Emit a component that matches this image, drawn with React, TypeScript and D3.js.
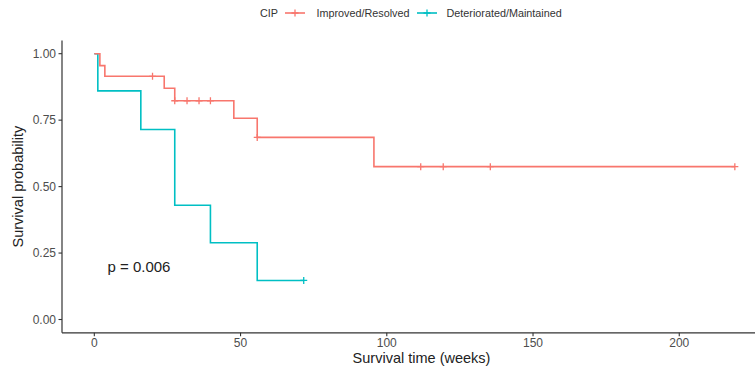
import { useEffect, useRef } from 'react';
import * as d3 from 'd3';

// Improved/Resolved group (red)
const redTimes = [0, 1.9, 3.6, 23.9, 27.5, 47.7, 55.7, 95.6];
const redSurv = [1, 0.955, 0.915, 0.87, 0.823, 0.757, 0.685, 0.575];
const redEnd = 219;
const redCensorTimes = [19.9, 27.5, 31.7, 35.8, 39.7, 55.7, 111.6, 119.3, 135.4, 219];

// Deteriorated/Maintained group (teal)
const tealTimes = [0, 1.2, 15.9, 27.5, 39.7, 55.7];
const tealSurv = [1, 0.86, 0.715, 0.43, 0.289, 0.147];
const tealEnd = 71.6;
const tealCensorTimes = [71.6];

const xTicks = [0, 50, 100, 150, 200];
const yTicks = [0, 0.25, 0.5, 0.75, 1];
const legendLabels = ['Improved/Resolved', 'Deteriorated/Maintained'];
const pValueLabel = 'p = 0.006';

const RED = '#F8766D';
const TEAL = '#00BFC4';
const FONT = '"Liberation Sans", Arial, sans-serif';

const W = 755;
const H = 370;

// survival level at time t for a step curve
function survAt(times: number[], surv: number[], t: number) {
  let s = surv[0];
  for (let i = 0; i < times.length; i++) if (times[i] <= t) s = surv[i];
  return s;
}

export default function App() {
  const svgRef = useRef<SVGSVGElement>(null);

  useEffect(() => {
    if (!svgRef.current) return;
    const svg = d3.select(svgRef.current);
    svg.selectAll('*').remove();

    const panel = { left: 62, right: 773, top: 40.4, bottom: 332.8 };
    const xMax = 221;
    const x = d3.scaleLinear().domain([-0.05 * xMax, 1.05 * xMax]).range([panel.left, panel.right]);
    const y = d3.scaleLinear().domain([-0.05, 1.05]).range([panel.bottom, panel.top]);

    const line = d3
      .line<[number, number]>()
      .x((d) => x(d[0]))
      .y((d) => y(d[1]))
      .curve(d3.curveStepAfter);

    const groups = [
      { times: redTimes, surv: redSurv, end: redEnd, censor: redCensorTimes, color: RED },
      { times: tealTimes, surv: tealSurv, end: tealEnd, censor: tealCensorTimes, color: TEAL },
    ];

    // curves (teal first so red sits on top where they overlap)
    for (const g of [...groups].reverse()) {
      const pts: [number, number][] = g.times.map((t, i) => [t, g.surv[i]]);
      pts.push([g.end, g.surv[g.surv.length - 1]]);
      svg
        .append('path')
        .attr('d', line(pts))
        .attr('fill', 'none')
        .attr('stroke', g.color)
        .attr('stroke-width', 1.6);

      // censor marks
      g.censor.forEach((t) => {
        const cx = x(t);
        const cy = y(survAt(g.times, g.surv, t));
        svg
          .append('path')
          .attr('d', `M${cx - 3.5},${cy}H${cx + 3.5}M${cx},${cy - 3.5}V${cy + 3.5}`)
          .attr('stroke', g.color)
          .attr('stroke-width', 1.3);
      });
    }

    // Axes
    const axisColor = '#333333';
    svg
      .append('line')
      .attr('x1', panel.left)
      .attr('x2', panel.right)
      .attr('y1', panel.bottom)
      .attr('y2', panel.bottom)
      .attr('stroke', axisColor)
      .attr('stroke-width', 1.2);
    svg
      .append('line')
      .attr('x1', panel.left)
      .attr('x2', panel.left)
      .attr('y1', panel.top)
      .attr('y2', panel.bottom)
      .attr('stroke', axisColor)
      .attr('stroke-width', 1.2);

    xTicks.forEach((t) => {
      svg
        .append('line')
        .attr('x1', x(t))
        .attr('x2', x(t))
        .attr('y1', panel.bottom)
        .attr('y2', panel.bottom + 3.5)
        .attr('stroke', axisColor)
        .attr('stroke-width', 1.1);
      svg
        .append('text')
        .attr('x', x(t))
        .attr('y', 346.8)
        .attr('text-anchor', 'middle')
        .attr('fill', '#4d4d4d')
        .style('font-family', FONT)
        .style('font-size', '12px')
        .text(String(t));
    });

    yTicks.forEach((v) => {
      svg
        .append('line')
        .attr('x1', panel.left - 3.5)
        .attr('x2', panel.left)
        .attr('y1', y(v))
        .attr('y2', y(v))
        .attr('stroke', axisColor)
        .attr('stroke-width', 1.1);
      svg
        .append('text')
        .attr('x', panel.left - 6)
        .attr('y', y(v) + 4.3)
        .attr('text-anchor', 'end')
        .attr('fill', '#4d4d4d')
        .style('font-family', FONT)
        .style('font-size', '12px')
        .text(v.toFixed(2));
    });

    // Axis titles
    svg
      .append('text')
      .attr('x', (panel.left + panel.right) / 2 + 4)
      .attr('y', 362.5)
      .attr('text-anchor', 'middle')
      .attr('fill', '#222')
      .style('font-family', FONT)
      .style('font-size', '14.5px')
      .text('Survival time (weeks)');
    svg
      .append('text')
      .attr('transform', `translate(23,${(panel.top + panel.bottom) / 2}) rotate(-90)`)
      .attr('text-anchor', 'middle')
      .attr('fill', '#222')
      .style('font-family', FONT)
      .style('font-size', '14.5px')
      .text('Survival probability');

    // p-value
    svg
      .append('text')
      .attr('x', x(4.5))
      .attr('y', y(0.178))
      .attr('fill', '#222')
      .style('font-family', FONT)
      .style('font-size', '15px')
      .text(pValueLabel);

    // Legend
    const legendY = 13;
    svg
      .append('text')
      .attr('x', 260)
      .attr('y', legendY + 4)
      .attr('fill', '#333')
      .style('font-family', FONT)
      .style('font-size', '10.8px')
      .text('CIP');
    const keyX = [285, 417];
    const textX = [316.5, 446.5];
    groups.forEach((g, i) => {
      svg
        .append('line')
        .attr('x1', keyX[i])
        .attr('x2', keyX[i] + 20)
        .attr('y1', legendY)
        .attr('y2', legendY)
        .attr('stroke', g.color)
        .attr('stroke-width', 1.6);
      const cx = keyX[i] + 10;
      svg
        .append('path')
        .attr('d', `M${cx - 3.5},${legendY}H${cx + 3.5}M${cx},${legendY - 3.5}V${legendY + 3.5}`)
        .attr('stroke', g.color)
        .attr('stroke-width', 1.3);
      svg
        .append('text')
        .attr('x', textX[i])
        .attr('y', legendY + 4)
        .attr('fill', '#333')
        .style('font-family', FONT)
        .style('font-size', '10.8px')
        .text(legendLabels[i]);
    });
  }, []);

  return (
    <div style={{ position: 'absolute', left: 0, top: 0, background: '#fff' }}>
      <svg ref={svgRef} width={W} height={H} style={{ display: 'block' }} />
    </div>
  );
}
